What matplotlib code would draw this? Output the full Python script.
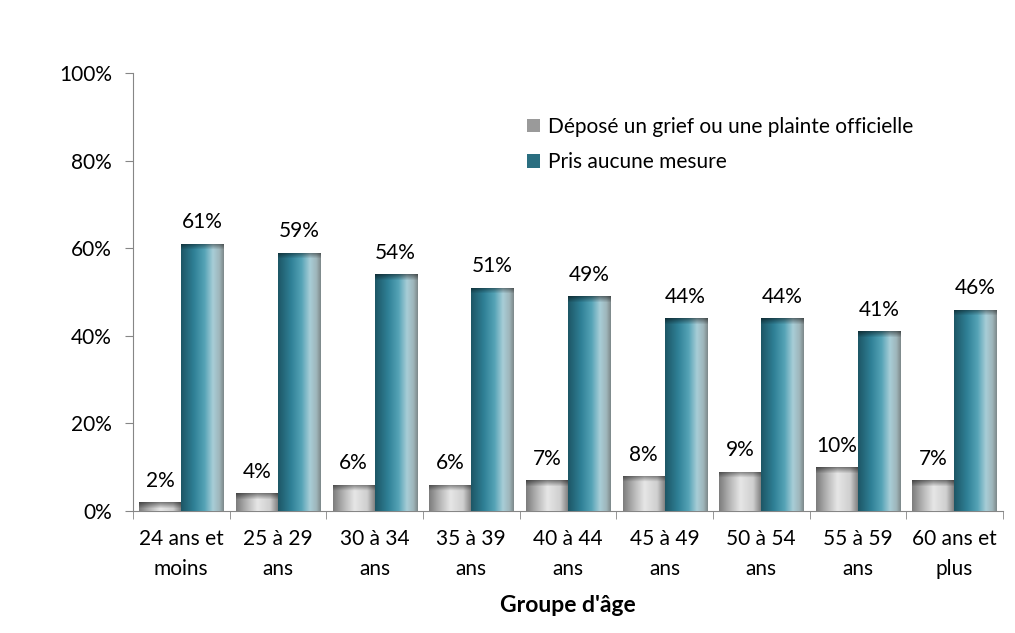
import numpy as np
import matplotlib
matplotlib.use("Agg")
import matplotlib.pyplot as plt
from matplotlib.patches import Patch
from matplotlib.colors import to_rgb

categories = ["24 ans et\nmoins", "25 à 29\nans", "30 à 34\nans", "35 à 39\nans",
              "40 à 44\nans", "45 à 49\nans", "50 à 54\nans", "55 à 59\nans",
              "60 ans et\nplus"]
grief = [2, 4, 6, 6, 7, 8, 9, 10, 7]
aucune = [61, 59, 54, 51, 49, 44, 44, 41, 46]
series_names = ["Déposé un grief ou une plainte officielle", "Pris aucune mesure"]

plt.rcParams.update({"font.family": ["Lato", "DejaVu Sans"], "font.size": 15})

GRAY_STOPS = [(0.0, "#7d7d7d"), (0.25, "#b5b5b5"), (0.5, "#e6e6e6"),
              (0.8, "#cfcfcf"), (1.0, "#7a7a7a")]
TEAL_STOPS = [(0.0, "#1d5766"), (0.3, "#2f8096"), (0.55, "#55a3b6"),
              (0.75, "#a8cdd7"), (0.9, "#9fb6bb"), (1.0, "#7f8a8c")]


def hgrad(stops, n=64):
    xs = np.linspace(0, 1, n)
    pos = [s[0] for s in stops]
    cols = np.array([to_rgb(s[1]) for s in stops])
    return np.stack([np.interp(xs, pos, cols[:, k]) for k in range(3)], axis=1)


def shade_bars(ax, bars, stops, px_per_unit):
    row = hgrad(stops)
    for b in bars:
        x0, w, h = b.get_x(), b.get_width(), b.get_height()
        hpx = max(int(round(h * px_per_unit)), 2)
        img = np.repeat(row[None, :, :], hpx, axis=0)
        # darker bevel along the top
        bevel = min(7, hpx)
        fac = np.ones(hpx)
        fac[:bevel] = np.linspace(0.55, 1.0, bevel)
        img = img * fac[:, None, None]
        im = ax.imshow(img, extent=(x0, x0 + w, 0, h), origin="upper",
                       aspect="auto", interpolation="bilinear", zorder=3)
        im.set_clip_path(b)
        b.set_facecolor("none")


fig = plt.figure(figsize=(10.15, 6.33), dpi=100)
ax = fig.add_axes([0.131, 0.1927, 0.857, 0.692])

x = np.arange(len(categories))
w = 0.435
b1 = ax.bar(x - w / 2, grief, width=w, color="#b0b0b0", edgecolor="none", zorder=2)
b2 = ax.bar(x + w / 2, aucune, width=w, color="#2f8096", edgecolor="none", zorder=2)

ax.set_xlim(-0.5, len(categories) - 0.5)
ax.set_ylim(0, 100)
px_per_unit = 4.38
shade_bars(ax, b1, GRAY_STOPS, px_per_unit)
shade_bars(ax, b2, TEAL_STOPS, px_per_unit)

for xi, v in zip(x - w / 2, grief):
    ax.text(xi, v + 2.6, f"{v}%", ha="center", va="bottom")
for xi, v in zip(x + w / 2, aucune):
    ax.text(xi, v + 2.6, f"{v}%", ha="center", va="bottom")

ax.set_yticks(range(0, 101, 20))
ax.set_yticklabels([f"{t}%" for t in range(0, 101, 20)])
ax.set_xticks(x)
ax.set_xticklabels(categories, linespacing=1.6)
ax.set_xticks(np.arange(-0.5, len(categories)), minor=True)
ax.tick_params(axis="x", which="major", length=0, pad=13)
ax.tick_params(axis="x", which="minor", length=6, color="#868686", direction="out")
ax.tick_params(axis="y", length=6, color="#868686", direction="out", pad=9)

for sp in ("top", "right"):
    ax.spines[sp].set_visible(False)
for sp in ("left", "bottom"):
    ax.spines[sp].set_color("#868686")

ax.set_xlabel("Groupe d'âge", fontweight="bold", fontsize=16.5, labelpad=12)

handles = [Patch(facecolor="#9a9a9a", edgecolor="none"),
           Patch(facecolor="#2a6e80", edgecolor="none")]
ax.legend(handles, series_names, loc="upper left", bbox_to_anchor=(0.453, 0.9),
          frameon=False, borderpad=0, borderaxespad=0, handlelength=0.6,
          handleheight=0.6, handletextpad=0.4, labelspacing=0.75)

fig.savefig("out.png", dpi=100)
